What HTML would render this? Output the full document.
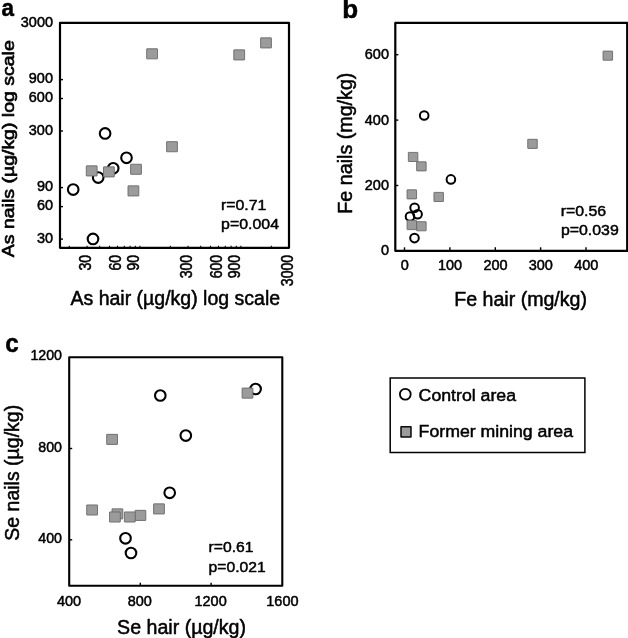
<!DOCTYPE html>
<html lang="en"><head><meta charset="utf-8"><title>Figure</title>
<style>
html,body{margin:0;padding:0;background:#fff;}
body{width:628px;height:638px;overflow:hidden;}
svg{display:block;will-change:transform;filter:grayscale(1);}
svg text{font-family:"Liberation Sans", Arial, Helvetica, sans-serif;fill:#000;stroke:#000;stroke-width:0.5px;stroke-linejoin:round;}
</style></head><body>
<svg width="628" height="638" viewBox="0 0 628 638">
<rect width="628" height="638" fill="#fff"/>
<rect x="60.0" y="22.9" width="229.00" height="224.90" fill="none" stroke="#000" stroke-width="2.2" stroke-linejoin="round"/>
<text transform="translate(53.00,26.90) scale(1,1.03)" font-size="14.5" text-anchor="end" font-weight="normal">3000</text>
<line x1="60.0" y1="79.6" x2="63.0" y2="79.6" stroke="#000" stroke-width="1.4"/>
<text transform="translate(53.00,83.40) scale(1,1.03)" font-size="14.5" text-anchor="end" font-weight="normal">900</text>
<line x1="60.0" y1="98.5" x2="63.0" y2="98.5" stroke="#000" stroke-width="1.4"/>
<text transform="translate(53.00,102.30) scale(1,1.03)" font-size="14.5" text-anchor="end" font-weight="normal">600</text>
<line x1="60.0" y1="131.0" x2="63.0" y2="131.0" stroke="#000" stroke-width="1.4"/>
<text transform="translate(53.00,134.80) scale(1,1.03)" font-size="14.5" text-anchor="end" font-weight="normal">300</text>
<line x1="60.0" y1="187.6" x2="63.0" y2="187.6" stroke="#000" stroke-width="1.4"/>
<text transform="translate(53.00,191.40) scale(1,1.03)" font-size="14.5" text-anchor="end" font-weight="normal">90</text>
<line x1="60.0" y1="206.6" x2="63.0" y2="206.6" stroke="#000" stroke-width="1.4"/>
<text transform="translate(53.00,210.40) scale(1,1.03)" font-size="14.5" text-anchor="end" font-weight="normal">60</text>
<line x1="60.0" y1="239.1" x2="63.0" y2="239.1" stroke="#000" stroke-width="1.4"/>
<text transform="translate(53.00,242.90) scale(1,1.03)" font-size="14.5" text-anchor="end" font-weight="normal">30</text>
<line x1="69.3" y1="247.8" x2="69.3" y2="245.70000000000002" stroke="#000" stroke-width="1.1"/>
<line x1="87.1" y1="247.8" x2="87.1" y2="245.70000000000002" stroke="#000" stroke-width="1.1"/>
<line x1="99.7" y1="247.8" x2="99.7" y2="245.70000000000002" stroke="#000" stroke-width="1.1"/>
<line x1="109.5" y1="247.8" x2="109.5" y2="245.70000000000002" stroke="#000" stroke-width="1.1"/>
<line x1="117.5" y1="247.8" x2="117.5" y2="245.70000000000002" stroke="#000" stroke-width="1.1"/>
<line x1="124.3" y1="247.8" x2="124.3" y2="245.70000000000002" stroke="#000" stroke-width="1.1"/>
<line x1="130.1" y1="247.8" x2="130.1" y2="245.70000000000002" stroke="#000" stroke-width="1.1"/>
<line x1="135.3" y1="247.8" x2="135.3" y2="245.70000000000002" stroke="#000" stroke-width="1.1"/>
<line x1="139.9" y1="247.8" x2="139.9" y2="245.70000000000002" stroke="#000" stroke-width="1.1"/>
<line x1="170.3" y1="247.8" x2="170.3" y2="245.70000000000002" stroke="#000" stroke-width="1.1"/>
<line x1="188.1" y1="247.8" x2="188.1" y2="245.70000000000002" stroke="#000" stroke-width="1.1"/>
<line x1="200.7" y1="247.8" x2="200.7" y2="245.70000000000002" stroke="#000" stroke-width="1.1"/>
<line x1="210.5" y1="247.8" x2="210.5" y2="245.70000000000002" stroke="#000" stroke-width="1.1"/>
<line x1="218.5" y1="247.8" x2="218.5" y2="245.70000000000002" stroke="#000" stroke-width="1.1"/>
<line x1="225.3" y1="247.8" x2="225.3" y2="245.70000000000002" stroke="#000" stroke-width="1.1"/>
<line x1="231.1" y1="247.8" x2="231.1" y2="245.70000000000002" stroke="#000" stroke-width="1.1"/>
<line x1="236.3" y1="247.8" x2="236.3" y2="245.70000000000002" stroke="#000" stroke-width="1.1"/>
<line x1="240.9" y1="247.8" x2="240.9" y2="245.70000000000002" stroke="#000" stroke-width="1.1"/>
<line x1="271.3" y1="247.8" x2="271.3" y2="245.70000000000002" stroke="#000" stroke-width="1.1"/>
<text transform="translate(90.80,254.90) rotate(-90) scale(0.97,1.08)" font-size="14.5" text-anchor="end">30</text>
<text transform="translate(121.20,254.90) rotate(-90) scale(0.97,1.08)" font-size="14.5" text-anchor="end">60</text>
<text transform="translate(138.99,254.90) rotate(-90) scale(0.97,1.08)" font-size="14.5" text-anchor="end">90</text>
<text transform="translate(191.80,254.90) rotate(-90) scale(0.97,1.08)" font-size="14.5" text-anchor="end">300</text>
<text transform="translate(222.20,254.90) rotate(-90) scale(0.97,1.08)" font-size="14.5" text-anchor="end">600</text>
<text transform="translate(239.99,254.90) rotate(-90) scale(0.97,1.08)" font-size="14.5" text-anchor="end">900</text>
<text transform="translate(292.80,254.90) rotate(-90) scale(0.97,1.08)" font-size="14.5" text-anchor="end">3000</text>
<text transform="translate(14.00,257.20) rotate(-90) scale(1.0,0.8)" font-size="19.5" text-anchor="start" style="stroke-width:0.8px">As nails (µg/kg) log scale</text>
<text transform="translate(70.50,304.70) scale(1,1)" font-size="19.5" text-anchor="start" font-weight="normal">As hair (µg/kg) log scale</text>
<text transform="translate(1.60,15.50) scale(0.92,1)" font-size="24.5" text-anchor="start" font-weight="bold">a</text>
<circle cx="105.1" cy="133.4" r="5.3" fill="none" stroke="#000" stroke-width="2.1"/>
<circle cx="126.5" cy="157.8" r="5.3" fill="none" stroke="#000" stroke-width="2.1"/>
<circle cx="113.2" cy="168.3" r="5.3" fill="none" stroke="#000" stroke-width="2.1"/>
<circle cx="98.2" cy="177.6" r="5.3" fill="none" stroke="#000" stroke-width="2.1"/>
<circle cx="73.2" cy="189.6" r="5.3" fill="none" stroke="#000" stroke-width="2.1"/>
<circle cx="93.0" cy="238.9" r="5.3" fill="none" stroke="#000" stroke-width="2.1"/>
<rect x="86.30" y="165.85" width="10.8" height="10.1" rx="0.25" fill="#9b9b9b" stroke="#6a6a6a" stroke-width="0.9"/>
<rect x="103.50" y="166.85" width="10.8" height="10.1" rx="0.25" fill="#9b9b9b" stroke="#6a6a6a" stroke-width="0.9"/>
<rect x="130.60" y="164.25" width="10.8" height="10.1" rx="0.25" fill="#9b9b9b" stroke="#6a6a6a" stroke-width="0.9"/>
<rect x="128.00" y="185.85" width="10.8" height="10.1" rx="0.25" fill="#9b9b9b" stroke="#6a6a6a" stroke-width="0.9"/>
<rect x="166.60" y="141.65" width="10.8" height="10.1" rx="0.25" fill="#9b9b9b" stroke="#6a6a6a" stroke-width="0.9"/>
<rect x="146.70" y="48.75" width="10.8" height="10.1" rx="0.25" fill="#9b9b9b" stroke="#6a6a6a" stroke-width="0.9"/>
<rect x="233.80" y="49.85" width="10.8" height="10.1" rx="0.25" fill="#9b9b9b" stroke="#6a6a6a" stroke-width="0.9"/>
<rect x="260.60" y="37.85" width="10.8" height="10.1" rx="0.25" fill="#9b9b9b" stroke="#6a6a6a" stroke-width="0.9"/>
<text transform="translate(220.90,210.20) scale(1,0.94)" font-size="15.9" text-anchor="start" font-weight="normal">r=0.71</text>
<text transform="translate(221.10,229.00) scale(1,0.94)" font-size="15.9" text-anchor="start" font-weight="normal">p=0.004</text>
<rect x="395.3" y="22.9" width="231.90" height="227.90" fill="none" stroke="#000" stroke-width="2.2" stroke-linejoin="round"/>
<text transform="translate(389.00,254.90) scale(1,1.03)" font-size="14.5" text-anchor="end" font-weight="normal">0</text>
<line x1="395.3" y1="185.5" x2="398.3" y2="185.5" stroke="#000" stroke-width="1.4"/>
<text transform="translate(389.00,190.20) scale(1,1.03)" font-size="14.5" text-anchor="end" font-weight="normal">200</text>
<line x1="395.3" y1="120.1" x2="398.3" y2="120.1" stroke="#000" stroke-width="1.4"/>
<text transform="translate(389.00,124.80) scale(1,1.03)" font-size="14.5" text-anchor="end" font-weight="normal">400</text>
<line x1="395.3" y1="54.7" x2="398.3" y2="54.7" stroke="#000" stroke-width="1.4"/>
<text transform="translate(389.00,59.40) scale(1,1.03)" font-size="14.5" text-anchor="end" font-weight="normal">600</text>
<line x1="404.5" y1="250.8" x2="404.5" y2="247.3" stroke="#000" stroke-width="1.4"/>
<text transform="translate(404.70,270.20) scale(1,1.03)" font-size="14.5" text-anchor="middle" font-weight="normal">0</text>
<line x1="449.9" y1="250.8" x2="449.9" y2="247.3" stroke="#000" stroke-width="1.4"/>
<text transform="translate(450.08,270.20) scale(1,1.03)" font-size="14.5" text-anchor="middle" font-weight="normal">100</text>
<line x1="495.3" y1="250.8" x2="495.3" y2="247.3" stroke="#000" stroke-width="1.4"/>
<text transform="translate(495.46,270.20) scale(1,1.03)" font-size="14.5" text-anchor="middle" font-weight="normal">200</text>
<line x1="540.6" y1="250.8" x2="540.6" y2="247.3" stroke="#000" stroke-width="1.4"/>
<text transform="translate(540.84,270.20) scale(1,1.03)" font-size="14.5" text-anchor="middle" font-weight="normal">300</text>
<line x1="586.0" y1="250.8" x2="586.0" y2="247.3" stroke="#000" stroke-width="1.4"/>
<text transform="translate(586.22,270.20) scale(1,1.03)" font-size="14.5" text-anchor="middle" font-weight="normal">400</text>
<text transform="translate(352.10,213.70) rotate(-90) scale(1,1)" font-size="19.7" text-anchor="start">Fe nails (mg/kg)</text>
<text transform="translate(454.20,305.50) scale(1,1)" font-size="19.6" text-anchor="start" font-weight="normal">Fe hair (mg/kg)</text>
<text transform="translate(342.30,17.50) scale(1,1)" font-size="26" text-anchor="start" font-weight="bold">b</text>
<circle cx="424.2" cy="115.5" r="4.3" fill="none" stroke="#000" stroke-width="2.0"/>
<circle cx="450.9" cy="179.4" r="4.3" fill="none" stroke="#000" stroke-width="2.0"/>
<circle cx="414.6" cy="207.7" r="4.3" fill="none" stroke="#000" stroke-width="2.0"/>
<circle cx="410.0" cy="216.5" r="4.3" fill="none" stroke="#000" stroke-width="2.0"/>
<circle cx="417.6" cy="214.3" r="4.3" fill="none" stroke="#000" stroke-width="2.0"/>
<circle cx="414.5" cy="238.1" r="4.3" fill="none" stroke="#000" stroke-width="2.0"/>
<rect x="408.35" y="152.40" width="9.5" height="9.1" rx="0.25" fill="#9b9b9b" stroke="#6a6a6a" stroke-width="0.9"/>
<rect x="416.65" y="161.80" width="9.5" height="9.1" rx="0.25" fill="#9b9b9b" stroke="#6a6a6a" stroke-width="0.9"/>
<rect x="407.05" y="189.80" width="9.5" height="9.1" rx="0.25" fill="#9b9b9b" stroke="#6a6a6a" stroke-width="0.9"/>
<rect x="433.95" y="192.40" width="9.5" height="9.1" rx="0.25" fill="#9b9b9b" stroke="#6a6a6a" stroke-width="0.9"/>
<rect x="407.05" y="220.50" width="9.5" height="9.1" rx="0.25" fill="#9b9b9b" stroke="#6a6a6a" stroke-width="0.9"/>
<rect x="416.65" y="221.70" width="9.5" height="9.1" rx="0.25" fill="#9b9b9b" stroke="#6a6a6a" stroke-width="0.9"/>
<rect x="527.75" y="139.30" width="9.5" height="9.1" rx="0.25" fill="#9b9b9b" stroke="#6a6a6a" stroke-width="0.9"/>
<rect x="603.05" y="51.10" width="9.5" height="9.1" rx="0.25" fill="#9b9b9b" stroke="#6a6a6a" stroke-width="0.9"/>
<text transform="translate(560.70,215.70) scale(1,0.94)" font-size="15.9" text-anchor="start" font-weight="normal">r=0.56</text>
<text transform="translate(560.90,234.90) scale(1,0.94)" font-size="15.9" text-anchor="start" font-weight="normal">p=0.039</text>
<rect x="69.2" y="357.2" width="213.10" height="228.60" fill="none" stroke="#000" stroke-width="2.1" stroke-linejoin="round"/>
<line x1="69.2" y1="539.8" x2="72.2" y2="539.8" stroke="#000" stroke-width="1.4"/>
<text transform="translate(62.00,543.40) scale(1,1.03)" font-size="14.2" text-anchor="end" font-weight="normal">400</text>
<line x1="69.2" y1="448.5" x2="72.2" y2="448.5" stroke="#000" stroke-width="1.4"/>
<text transform="translate(62.00,452.10) scale(1,1.03)" font-size="14.2" text-anchor="end" font-weight="normal">800</text>
<text transform="translate(62.00,360.20) scale(1,1.03)" font-size="14.2" text-anchor="end" font-weight="normal">1200</text>
<text transform="translate(69.00,605.80) scale(1,1.03)" font-size="14.5" text-anchor="middle" font-weight="normal">400</text>
<line x1="140.3" y1="585.8" x2="140.3" y2="582.8" stroke="#000" stroke-width="1.4"/>
<text transform="translate(139.80,605.80) scale(1,1.03)" font-size="14.5" text-anchor="middle" font-weight="normal">800</text>
<line x1="211.1" y1="585.8" x2="211.1" y2="582.8" stroke="#000" stroke-width="1.4"/>
<text transform="translate(210.60,605.80) scale(1,1.03)" font-size="14.5" text-anchor="middle" font-weight="normal">1200</text>
<text transform="translate(282.40,605.80) scale(1,1.03)" font-size="14.5" text-anchor="middle" font-weight="normal">1600</text>
<text transform="translate(18.75,540.70) rotate(-90) scale(1,1)" font-size="19.5" text-anchor="start">Se nails (µg/kg)</text>
<text transform="translate(117.10,634.20) scale(1,1)" font-size="19.6" text-anchor="start" font-weight="normal">Se hair (µg/kg)</text>
<text transform="translate(5.30,351.65) scale(0.97,1)" font-size="25" text-anchor="start" font-weight="bold">c</text>
<circle cx="160.3" cy="395.5" r="5.3" fill="none" stroke="#000" stroke-width="2.1"/>
<circle cx="185.8" cy="435.6" r="5.3" fill="none" stroke="#000" stroke-width="2.1"/>
<circle cx="169.7" cy="492.8" r="5.3" fill="none" stroke="#000" stroke-width="2.1"/>
<circle cx="125.5" cy="538.3" r="5.3" fill="none" stroke="#000" stroke-width="2.1"/>
<circle cx="131.0" cy="553.0" r="5.3" fill="none" stroke="#000" stroke-width="2.1"/>
<circle cx="255.6" cy="389.0" r="5.3" fill="none" stroke="#000" stroke-width="2.1"/>
<rect x="86.70" y="504.95" width="10.8" height="10.1" rx="0.25" fill="#9b9b9b" stroke="#6a6a6a" stroke-width="0.9"/>
<rect x="112.00" y="508.85" width="10.8" height="10.1" rx="0.25" fill="#9b9b9b" stroke="#6a6a6a" stroke-width="0.9"/>
<rect x="109.50" y="511.95" width="10.8" height="10.1" rx="0.25" fill="#9b9b9b" stroke="#6a6a6a" stroke-width="0.9"/>
<rect x="135.00" y="510.35" width="10.8" height="10.1" rx="0.25" fill="#9b9b9b" stroke="#6a6a6a" stroke-width="0.9"/>
<rect x="124.40" y="511.95" width="10.8" height="10.1" rx="0.25" fill="#9b9b9b" stroke="#6a6a6a" stroke-width="0.9"/>
<rect x="153.60" y="503.85" width="10.8" height="10.1" rx="0.25" fill="#9b9b9b" stroke="#6a6a6a" stroke-width="0.9"/>
<rect x="242.10" y="388.05" width="10.8" height="10.1" rx="0.25" fill="#9b9b9b" stroke="#6a6a6a" stroke-width="0.9"/>
<rect x="106.70" y="434.35" width="10.8" height="10.1" rx="0.25" fill="#9b9b9b" stroke="#6a6a6a" stroke-width="0.9"/>
<text transform="translate(208.60,552.30) scale(1,0.98)" font-size="15.7" text-anchor="start" font-weight="normal">r=0.61</text>
<text transform="translate(208.60,571.90) scale(1,0.98)" font-size="15.7" text-anchor="start" font-weight="normal">p=0.021</text>
<rect x="390.2" y="378.0" width="194.7" height="74.5" fill="none" stroke="#000" stroke-width="1.5"/>
<circle cx="405.3" cy="394.2" r="5.4" fill="none" stroke="#000" stroke-width="1.8"/>
<rect x="401.00" y="426.85" width="10.0" height="10.2" rx="0.25" fill="#9b9b9b" stroke="#0a0a0a" stroke-width="1.5"/>
<text transform="translate(418.60,400.80) scale(1.048,1)" font-size="16.9" text-anchor="start" font-weight="normal">Control area</text>
<text transform="translate(418.60,437.30) scale(1.048,1)" font-size="16.9" text-anchor="start" font-weight="normal">Former mining area</text>
</svg>
</body></html>
